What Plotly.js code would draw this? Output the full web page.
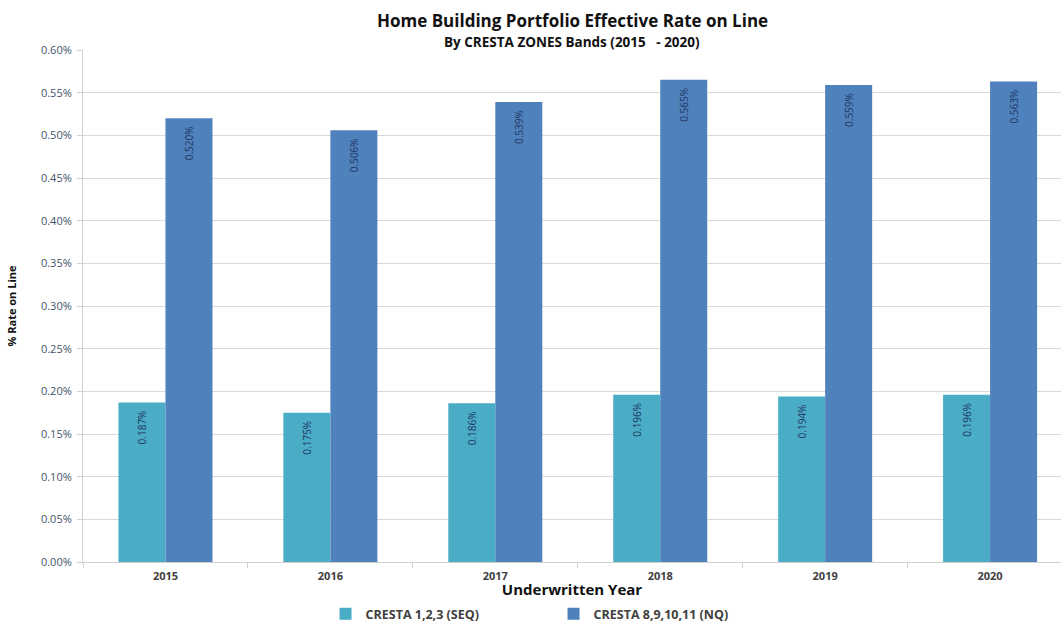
<!DOCTYPE html>
<html>
<head>
<meta charset="utf-8">
<script src="https://cdn.plot.ly/plotly-3.0.1.min.js"></script>
<style>html,body{margin:0;padding:0;background:#fff;}#chart{width:1061px;height:624px;}</style>
</head>
<body>
<div id="chart"></div>
<script>
const years = ['2015', '2016', '2017', '2018', '2019', '2020'];
const seqName = 'CRESTA 1,2,3 (SEQ)';
const nqName = 'CRESTA 8,9,10,11 (NQ)';
const seqValues = [0.00187, 0.00175, 0.00186, 0.00196, 0.00194, 0.00196];
const nqValues = [0.00520, 0.00506, 0.00539, 0.00565, 0.00559, 0.00563];

const labelFont = {family: 'Open Sans, sans-serif', size: 10, color: '#1F3864'};
function pct(v) { return (v * 100).toFixed(3) + '%\u00a0\u00a0'; }

const traces = [
  {type: 'bar', name: seqName, x: years, y: seqValues,
   marker: {color: '#4BACC6'},
   text: seqValues.map(pct), textposition: 'inside', insidetextanchor: 'end',
   textangle: -90, textfont: labelFont, hoverinfo: 'x+y'},
  {type: 'bar', name: nqName, x: years, y: nqValues,
   marker: {color: '#4F81BD'},
   text: nqValues.map(pct), textposition: 'inside', insidetextanchor: 'end',
   textangle: -90, textfont: labelFont, hoverinfo: 'x+y'}
];

const layout = {
  width: 1061, height: 624,
  margin: {l: 83, r: 0, t: 50, b: 62},
  paper_bgcolor: '#ffffff', plot_bgcolor: '#ffffff',
  font: {family: 'Open Sans, sans-serif', color: '#404040'},
  barmode: 'group', bargap: 0.43, bargroupgap: 0,
  showlegend: true,
  legend: {orientation: 'h', xref: 'paper', x: 0.248, xanchor: 'left',
           yref: 'container', y: 0.016, yanchor: 'middle',
           font: {size: 12.5, color: '#404040', family: 'Open Sans, sans-serif', weight: 'bold'},
           entrywidth: 183, entrywidthmode: 'pixels', itemwidth: 30, traceorder: 'normal'},
  annotations: [
    {text: '<b>Home Building Portfolio Effective Rate on Line</b>', xref: 'paper', yref: 'paper',
     x: 0.5, y: 1, yshift: 30, showarrow: false, xanchor: 'center', yanchor: 'middle',
     font: {size: 17, color: '#111111', family: 'Open Sans, sans-serif'}},
    {text: '<b>By CRESTA ZONES Bands (2015   - 2020)</b>', xref: 'paper', yref: 'paper',
     x: 0.5, y: 1, yshift: 8, showarrow: false, xanchor: 'center', yanchor: 'middle',
     font: {size: 13.5, color: '#111111', family: 'Open Sans, sans-serif'}}
  ],
  xaxis: {
    type: 'category', range: [-0.5, 5.43], automargin: false,
    showline: true, linecolor: '#d0d0d0', linewidth: 1,
    ticks: 'outside', tickson: 'boundaries', ticklen: 5, tickcolor: '#d0d0d0',
    ticklabelstandoff: 4,
    tickfont: {size: 11, color: '#404040', weight: 'bold'},
    title: {text: '<b>Underwritten Year</b>', standoff: 15,
            font: {size: 15, color: '#111111'}},
    showgrid: false, zeroline: false
  },
  yaxis: {
    range: [0, 0.006], dtick: 0.0005, tickformat: '.2%', automargin: false,
    showline: true, linecolor: '#d0d0d0', linewidth: 1,
    ticks: 'outside', ticklen: 5, tickcolor: '#d0d0d0', ticklabelstandoff: 3,
    tickfont: {size: 11, color: '#44546A'},
    gridcolor: '#d9d9d9', gridwidth: 1, zeroline: false,
    title: {text: '<b>% Rate on Line</b>', standoff: 22,
            font: {size: 11, color: '#111111'}}
  }
};

Plotly.newPlot('chart', traces, layout, {displayModeBar: false, staticPlot: true});
</script>
</body>
</html>
